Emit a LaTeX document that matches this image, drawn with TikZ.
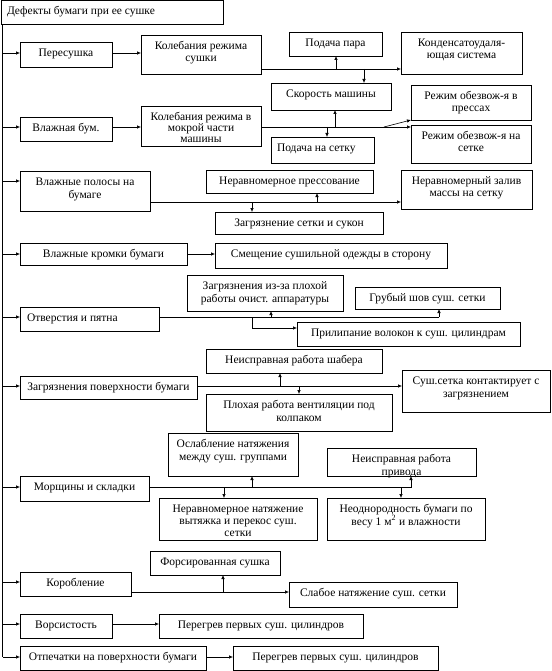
\documentclass[tikz,border=0pt]{standalone}
\usepackage{fontspec}
\setmainfont{Liberation Serif}
\usetikzlibrary{arrows.meta}
\tikzset{
 bxs/.style={draw, line width=0.6pt, inner sep=0pt, outer sep=0pt, anchor=north west},
 ln/.style={line width=0.6pt},
 arr/.style={ln, -{Latex[length=4pt,width=3.5pt]}},
}
\newcommand\bx[7][\centering]{\node[bxs] (#2) at (#3,#4) {\parbox[c][\dimexpr#6pt-#4pt\relax][t]{\dimexpr#5pt-#3pt\relax}{#1\rule{0pt}{14.5pt}#7}};}
\begin{document}
\begin{tikzpicture}[x=1pt,y=-1pt,font=\fontsize{11.5pt}{12.5pt}\selectfont]
\useasboundingbox (0,0) rectangle (551,671);
\bx[\raggedright\hspace*{6pt}]{title}{1}{0.5}{223}{24}{Дефекты бумаги при ее сушке}
\coordinate (sp0) at (2.5,24);
\coordinate (sp1) at (2.5,657);
\draw[ln] (sp0) -- (sp1);
% row 1
\bx{pere}{20}{42}{112}{67}{Пересушка}
\bx{kols}{141}{35}{261}{74}{Колебания режима\\сушки}
\bx{podpar}{289}{32}{382}{56}{Подача пара}
\bx{kond}{401}{32}{522}{74}{Конденсатоудаля-\\ющая система}
\bx{skor}{271}{83}{391}{110}{Скорость машины}
\bx{rezp}{411}{85}{531}{120}{Режим обезвож-я в\\прессах}
\bx{rezs}{411}{125}{531}{163}{Режим обезвож-я на\\сетке}
\bx[\raggedright\hspace*{6pt}]{podset}{271}{137}{374}{163}{Подача на сетку}
\bx{vlb}{20}{117}{112}{141}{Влажная бум.}
\bx[\centering\fontsize{11.5pt}{10.8pt}\selectfont]{kolm}{141}{106}{261}{146}{Колебания режима в\\мокрой части\\машины}
% row 3
\bx{vpol}{20}{171}{150}{211}{Влажные полосы на\\бумаге}
\bx{nepr}{206}{170}{373}{193}{Неравномерное прессование}
\bx{zsuk}{215}{212}{383}{234}{Загрязнение сетки и сукон}
\bx{nzal}{401}{170}{532}{209}{Неравномерный залив\\массы на сетку}
\bx{vkr}{20}{243}{187}{265}{Влажные кромки бумаги}
\bx{smesh}{215}{243}{447}{268}{Смещение сушильной одежды в сторону}
% otv
\bx[\raggedright\hspace*{7pt}]{otv}{20}{307}{159}{331}{Отверстия и пятна}
\bx{zapp}{187}{275}{343}{311}{Загрязнения из-за плохой\\работы очист. аппаратуры}
\bx{grub}{355}{287}{500}{309}{Грубый шов суш. сетки}
\bx{prilip}{297}{322}{520}{346}{Прилипание волокон к суш. цилиндрам}
% zpov
\bx{zpov}{20}{376}{197}{399}{Загрязнения поверхности бумаги}
\bx{shaber}{206}{349}{382}{373}{Неисправная работа шабера}
\bx{vent}{206}{394}{392}{431}{Плохая работа вентиляции под\\колпаком}
\bx{susset}{402}{370}{550}{412}{Суш.сетка контактирует с\\загрязнением}
% morsh
\bx{morsh}{20}{476}{149}{501}{Морщины и складки}
\bx{osl}{168}{433}{298}{476}{Ослабление натяжения\\между суш. группами}
\bx[\centering\fontsize{11.5pt}{12pt}\selectfont]{nnat}{159}{498}{317}{540}{Неравномерное натяжение\\вытяжка и перекос суш.\\сетки}
\bx{privod}{327}{448}{476}{476}{Неисправная работа\\привода}
\bx{neodn}{327}{498}{485}{540}{Неоднородность бумаги по\\весу 1 м\textsuperscript{2} и влажности}
% korob
\bx{korob}{20}{572}{131}{596}{Коробление}
\bx{fors}{150}{551}{280}{575}{Форсированная сушка}
\bx{slab}{289}{582}{457}{607}{Слабое натяжение суш. сетки}
\bx{vors}{20}{614}{112}{638}{Ворсистость}
\bx{per1}{159}{614}{363}{638}{Перегрев первых суш. цилиндров}
\bx{otp}{20}{646}{206}{670}{Отпечатки на поверхности бумаги}
\bx{per2}{233}{646}{438}{670}{Перегрев первых суш. цилиндров}
% spine arrows
\foreach \n/\yy in {pere/53,vlb/127,vpol/181,vkr/254,otv/317,zpov/386,morsh/487,korob/582,vors/624,otp/657}
  \draw[arr] (sp0 |- 0,\yy) -- (\n.west |- 0,\yy);
% row 1
\draw[arr] (pere.east |- 0,53) -- (kols.west |- 0,53);
\draw[arr] (kols.east |- 0,69) -- (kond.west |- 0,69);
\draw[arr] (336,69) -- (podpar.south -| 336,0);
\draw[arr] (364,69) -- (skor.north -| 364,0);
% row 2
\draw[arr] (vlb.east |- 0,127) -- (kolm.west |- 0,127);
\draw[arr] (kolm.east |- 0,127) -- (rezs.west |- 0,127);
\coordinate (br) at (384,127);
\draw[arr] (br) -- (rezp.south west);
\draw[arr] (335,127) -- (skor.south -| 335,0);
\draw[arr] (327,127) -- (podset.north -| 327,0);
% row 3
\draw[arr] (vpol.east |- 0,202) -- (nzal.west |- 0,202);
\draw[arr] (317,202) -- (nepr.south -| 317,0);
\draw[arr] (252,202) -- (zsuk.north -| 252,0);
\draw[arr] (vkr.east |- 0,254) -- (smesh.west |- 0,254);
% otv
\draw[ln] (otv.east |- 0,317) -- (439,317);
\draw[arr] (439,317) -- (grub.south -| 439,0);
\draw[arr] (271,317) -- (zapp.south -| 271,0);
\draw[arr] (252,317) |- (prilip.west |- 0,328);
% zpov
\draw[arr] (zpov.east |- 0,386) -- (susset.west |- 0,386);
\draw[arr] (280,386) -- (shaber.south -| 280,0);
\draw[arr] (299,386) -- (vent.north -| 299,0);
% morsh
\draw[arr] (morsh.east |- 0,487) -| (privod.south -| 411,0);
\draw[arr] (252,487) -- (osl.south -| 252,0);
\draw[arr] (224,487) -- (nnat.north -| 224,0);
\draw[arr] (401,487) -- (neodn.north -| 401,0);
% korob
\draw[arr] (korob.east |- 0,592) -- (slab.west |- 0,592);
\draw[arr] (223,592) -- (fors.south -| 223,0);
\draw[arr] (vors.east |- 0,624) -- (per1.west |- 0,624);
\draw[arr] (otp.east |- 0,657) -- (per2.west |- 0,657);
\end{tikzpicture}
\end{document}
